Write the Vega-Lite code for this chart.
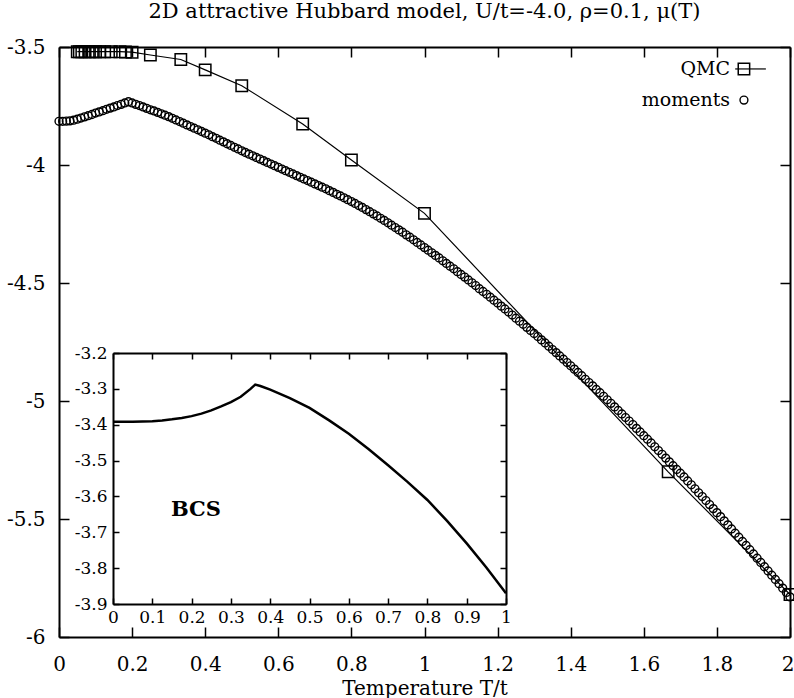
{
  "$schema": "https://vega.github.io/schema/vega-lite/v6.json",
  "width": 731,
  "height": 590,
  "autosize": "none",
  "padding": {"left": 59, "top": 47, "right": 4, "bottom": 61},
  "background": "white",
  "config": {
    "view": {"stroke": null},
    "font": "DejaVu Serif",
    "axis": {"grid": false, "domainColor": "black", "tickColor": "black", "labelColor": "black", "titleColor": "black", "labelFont": "DejaVu Serif", "titleFont": "DejaVu Serif", "titleFontWeight": "normal"}
  },
  "title": {"text": "2D attractive Hubbard model, U/t=-4.0, ρ=0.1, μ(T)", "font": "DejaVu Serif", "fontSize": 21, "fontWeight": "normal", "anchor": "middle", "offset": 15, "color": "black"},
  "datasets": {
    "moments": [
      {"T":0.00,"mu":-3.815},{"T":0.01,"mu":-3.815},{"T":0.02,"mu":-3.814},{"T":0.03,"mu":-3.813},{"T":0.04,"mu":-3.810},
      {"T":0.05,"mu":-3.806},{"T":0.06,"mu":-3.801},{"T":0.07,"mu":-3.796},{"T":0.08,"mu":-3.791},{"T":0.09,"mu":-3.786},
      {"T":0.10,"mu":-3.780},{"T":0.11,"mu":-3.775},{"T":0.12,"mu":-3.770},{"T":0.13,"mu":-3.764},{"T":0.14,"mu":-3.759},
      {"T":0.15,"mu":-3.754},{"T":0.16,"mu":-3.748},{"T":0.17,"mu":-3.743},{"T":0.18,"mu":-3.737},{"T":0.19,"mu":-3.732},
      {"T":0.20,"mu":-3.737},{"T":0.21,"mu":-3.743},{"T":0.22,"mu":-3.748},{"T":0.23,"mu":-3.754},{"T":0.24,"mu":-3.760},
      {"T":0.25,"mu":-3.766},{"T":0.26,"mu":-3.771},{"T":0.27,"mu":-3.777},{"T":0.28,"mu":-3.783},{"T":0.29,"mu":-3.789},
      {"T":0.30,"mu":-3.795},{"T":0.31,"mu":-3.802},{"T":0.32,"mu":-3.809},{"T":0.33,"mu":-3.816},{"T":0.34,"mu":-3.823},
      {"T":0.35,"mu":-3.830},{"T":0.36,"mu":-3.837},{"T":0.37,"mu":-3.844},{"T":0.38,"mu":-3.851},{"T":0.39,"mu":-3.858},
      {"T":0.40,"mu":-3.865},{"T":0.41,"mu":-3.872},{"T":0.42,"mu":-3.880},{"T":0.43,"mu":-3.887},{"T":0.44,"mu":-3.895},
      {"T":0.45,"mu":-3.902},{"T":0.46,"mu":-3.910},{"T":0.47,"mu":-3.917},{"T":0.48,"mu":-3.925},{"T":0.49,"mu":-3.932},
      {"T":0.50,"mu":-3.940},{"T":0.51,"mu":-3.947},{"T":0.52,"mu":-3.954},{"T":0.53,"mu":-3.961},{"T":0.54,"mu":-3.968},
      {"T":0.55,"mu":-3.975},{"T":0.56,"mu":-3.982},{"T":0.57,"mu":-3.989},{"T":0.58,"mu":-3.996},{"T":0.59,"mu":-4.003},
      {"T":0.60,"mu":-4.010},{"T":0.61,"mu":-4.017},{"T":0.62,"mu":-4.024},{"T":0.63,"mu":-4.031},{"T":0.64,"mu":-4.038},
      {"T":0.65,"mu":-4.045},{"T":0.66,"mu":-4.052},{"T":0.67,"mu":-4.059},{"T":0.68,"mu":-4.066},{"T":0.69,"mu":-4.073},
      {"T":0.70,"mu":-4.080},{"T":0.71,"mu":-4.087},{"T":0.72,"mu":-4.094},{"T":0.73,"mu":-4.101},{"T":0.74,"mu":-4.109},
      {"T":0.75,"mu":-4.116},{"T":0.76,"mu":-4.124},{"T":0.77,"mu":-4.131},{"T":0.78,"mu":-4.139},{"T":0.79,"mu":-4.147},
      {"T":0.80,"mu":-4.155},{"T":0.81,"mu":-4.163},{"T":0.82,"mu":-4.172},{"T":0.83,"mu":-4.180},{"T":0.84,"mu":-4.189},
      {"T":0.85,"mu":-4.198},{"T":0.86,"mu":-4.207},{"T":0.87,"mu":-4.216},{"T":0.88,"mu":-4.226},{"T":0.89,"mu":-4.235},
      {"T":0.90,"mu":-4.245},{"T":0.91,"mu":-4.255},{"T":0.92,"mu":-4.265},{"T":0.93,"mu":-4.275},{"T":0.94,"mu":-4.285},
      {"T":0.95,"mu":-4.296},{"T":0.96,"mu":-4.306},{"T":0.97,"mu":-4.317},{"T":0.98,"mu":-4.328},{"T":0.99,"mu":-4.339},
      {"T":1.00,"mu":-4.350},{"T":1.01,"mu":-4.361},{"T":1.02,"mu":-4.372},{"T":1.03,"mu":-4.383},{"T":1.04,"mu":-4.394},
      {"T":1.05,"mu":-4.406},{"T":1.06,"mu":-4.417},{"T":1.07,"mu":-4.429},{"T":1.08,"mu":-4.440},{"T":1.09,"mu":-4.452},
      {"T":1.10,"mu":-4.464},{"T":1.11,"mu":-4.475},{"T":1.12,"mu":-4.487},{"T":1.13,"mu":-4.499},{"T":1.14,"mu":-4.511},
      {"T":1.15,"mu":-4.524},{"T":1.16,"mu":-4.536},{"T":1.17,"mu":-4.548},{"T":1.18,"mu":-4.560},{"T":1.19,"mu":-4.573},
      {"T":1.20,"mu":-4.585},{"T":1.21,"mu":-4.598},{"T":1.22,"mu":-4.610},{"T":1.23,"mu":-4.623},{"T":1.24,"mu":-4.636},
      {"T":1.25,"mu":-4.649},{"T":1.26,"mu":-4.662},{"T":1.27,"mu":-4.675},{"T":1.28,"mu":-4.688},{"T":1.29,"mu":-4.701},
      {"T":1.30,"mu":-4.714},{"T":1.31,"mu":-4.727},{"T":1.32,"mu":-4.741},{"T":1.33,"mu":-4.754},{"T":1.34,"mu":-4.768},
      {"T":1.35,"mu":-4.782},{"T":1.36,"mu":-4.795},{"T":1.37,"mu":-4.809},{"T":1.38,"mu":-4.823},{"T":1.39,"mu":-4.837},
      {"T":1.40,"mu":-4.851},{"T":1.41,"mu":-4.865},{"T":1.42,"mu":-4.879},{"T":1.43,"mu":-4.893},{"T":1.44,"mu":-4.908},
      {"T":1.45,"mu":-4.922},{"T":1.46,"mu":-4.936},{"T":1.47,"mu":-4.951},{"T":1.48,"mu":-4.965},{"T":1.49,"mu":-4.980},
      {"T":1.50,"mu":-4.995},{"T":1.51,"mu":-5.010},{"T":1.52,"mu":-5.025},{"T":1.53,"mu":-5.040},{"T":1.54,"mu":-5.055},
      {"T":1.55,"mu":-5.070},{"T":1.56,"mu":-5.085},{"T":1.57,"mu":-5.100},{"T":1.58,"mu":-5.116},{"T":1.59,"mu":-5.131},
      {"T":1.60,"mu":-5.147},{"T":1.61,"mu":-5.162},{"T":1.62,"mu":-5.178},{"T":1.63,"mu":-5.194},{"T":1.64,"mu":-5.210},
      {"T":1.65,"mu":-5.226},{"T":1.66,"mu":-5.242},{"T":1.67,"mu":-5.258},{"T":1.68,"mu":-5.274},{"T":1.69,"mu":-5.290},
      {"T":1.70,"mu":-5.306},{"T":1.71,"mu":-5.322},{"T":1.72,"mu":-5.339},{"T":1.73,"mu":-5.355},{"T":1.74,"mu":-5.372},
      {"T":1.75,"mu":-5.389},{"T":1.76,"mu":-5.405},{"T":1.77,"mu":-5.422},{"T":1.78,"mu":-5.439},{"T":1.79,"mu":-5.456},
      {"T":1.80,"mu":-5.473},{"T":1.81,"mu":-5.490},{"T":1.82,"mu":-5.508},{"T":1.83,"mu":-5.525},{"T":1.84,"mu":-5.542},
      {"T":1.85,"mu":-5.560},{"T":1.86,"mu":-5.577},{"T":1.87,"mu":-5.595},{"T":1.88,"mu":-5.612},{"T":1.89,"mu":-5.630},
      {"T":1.90,"mu":-5.648},{"T":1.91,"mu":-5.666},{"T":1.92,"mu":-5.684},{"T":1.93,"mu":-5.702},{"T":1.94,"mu":-5.720},
      {"T":1.95,"mu":-5.738},{"T":1.96,"mu":-5.756},{"T":1.97,"mu":-5.774},{"T":1.98,"mu":-5.793},{"T":1.99,"mu":-5.811},
      {"T":2.00,"mu":-5.830}
    ],
    "qmc": [
      {"T":0.05,"mu":-3.52},{"T":0.0556,"mu":-3.52},{"T":0.0625,"mu":-3.52},{"T":0.0714,"mu":-3.52},{"T":0.0833,"mu":-3.52},
      {"T":0.0909,"mu":-3.52},{"T":0.1,"mu":-3.52},{"T":0.1111,"mu":-3.52},{"T":0.125,"mu":-3.52},{"T":0.1429,"mu":-3.52},
      {"T":0.1667,"mu":-3.52},{"T":0.1818,"mu":-3.521},{"T":0.2,"mu":-3.522},{"T":0.25,"mu":-3.534},{"T":0.3333,"mu":-3.553},
      {"T":0.4,"mu":-3.597},{"T":0.5,"mu":-3.664},{"T":0.6667,"mu":-3.826},{"T":0.8,"mu":-3.979},{"T":1.0,"mu":-4.205},
      {"T":1.6667,"mu":-5.30},{"T":2.0,"mu":-5.82}
    ],
    "bcs": [
      {"T":0,"mu":-3.392},{"T":0.05,"mu":-3.392},{"T":0.1,"mu":-3.390},{"T":0.125,"mu":-3.388},{"T":0.15,"mu":-3.385},
      {"T":0.175,"mu":-3.381},{"T":0.2,"mu":-3.376},{"T":0.225,"mu":-3.369},{"T":0.25,"mu":-3.360},{"T":0.275,"mu":-3.349},
      {"T":0.3,"mu":-3.337},{"T":0.325,"mu":-3.322},{"T":0.35,"mu":-3.300},{"T":0.362,"mu":-3.288},{"T":0.375,"mu":-3.292},
      {"T":0.4,"mu":-3.302},{"T":0.45,"mu":-3.326},{"T":0.5,"mu":-3.353},{"T":0.55,"mu":-3.388},{"T":0.6,"mu":-3.425},
      {"T":0.65,"mu":-3.468},{"T":0.7,"mu":-3.513},{"T":0.75,"mu":-3.560},{"T":0.8,"mu":-3.610},{"T":0.85,"mu":-3.668},
      {"T":0.9,"mu":-3.731},{"T":0.95,"mu":-3.798},{"T":1.0,"mu":-3.870}
    ]
  },
  "layer": [
    {
      "data": {"name": "moments"},
      "mark": {"type": "point", "shape": "circle", "filled": false, "size": 62, "stroke": "black", "strokeWidth": 1.4, "opacity": 1},
      "encoding": {
        "x": {"field": "T", "type": "quantitative", "scale": {"domain": [0, 2], "nice": false, "zero": false},
          "axis": {"orient": "bottom", "values": [0, 0.2, 0.4, 0.6, 0.8, 1, 1.2, 1.4, 1.6, 1.8, 2], "labelExpr": "'' + datum.value", "tickSize": -10, "tickWidth": 1.5, "domainWidth": 2, "labelPadding": 27, "labelFontSize": 20, "labelFlush": false, "labelOverlap": false,
            "labelAlign": {"condition": {"test": "datum.value == 2", "value": "right"}, "value": "center"},
            "labelOffset": {"condition": {"test": "datum.value == 2", "value": 4}, "value": 0},
            "title": "Temperature T/t", "titleFontSize": 20, "titlePadding": 4}},
        "y": {"field": "mu", "type": "quantitative", "scale": {"domain": [-6, -3.5], "nice": false, "zero": false},
          "axis": {"orient": "left", "values": [-6, -5.5, -5, -4.5, -4, -3.5], "labelExpr": "'' + datum.value", "tickSize": -10, "tickWidth": 1.5, "domainWidth": 2, "labelPadding": 24, "labelFontSize": 20, "labelFlush": false, "labelOverlap": false, "title": null}}
      }
    },
    {
      "data": {"name": "qmc"},
      "mark": {"type": "line", "color": "black", "strokeWidth": 1.2,
        "point": {"shape": "square", "filled": false, "size": 130, "stroke": "black", "strokeWidth": 1.5, "opacity": 1}},
      "encoding": {
        "x": {"field": "T", "type": "quantitative", "scale": {"domain": [0, 2], "nice": false, "zero": false},
          "axis": {"orient": "top", "values": [0, 0.2, 0.4, 0.6, 0.8, 1, 1.2, 1.4, 1.6, 1.8, 2], "labels": false, "tickSize": -10, "tickWidth": 1.5, "domainWidth": 2, "title": null}},
        "y": {"field": "mu", "type": "quantitative", "scale": {"domain": [-6, -3.5], "nice": false, "zero": false},
          "axis": {"orient": "right", "values": [-6, -5.5, -5, -4.5, -4, -3.5], "labels": false, "tickSize": -10, "tickWidth": 1.5, "domainWidth": 2, "title": null}}
      }
    },
    {
      "data": {"name": "bcs"},
      "mark": {"type": "line", "color": "black", "strokeWidth": 2.5},
      "encoding": {
        "x": {"field": "T", "type": "quantitative", "scale": {"domain": [0, 1], "range": [54, 447], "nice": false, "zero": false},
          "axis": {"orient": "bottom", "offset": -33, "values": [0, 0.1, 0.2, 0.3, 0.4, 0.5, 0.6, 0.7, 0.8, 0.9, 1], "labelExpr": "'' + datum.value", "tickSize": -6, "tickWidth": 1.5, "domainWidth": 2, "labelPadding": 11, "labelFontSize": 17, "labelFlush": false, "labelOverlap": false, "title": null}},
        "y": {"field": "mu", "type": "quantitative", "scale": {"domain": [-3.9, -3.2], "range": [557, 306], "nice": false, "zero": false},
          "axis": {"orient": "left", "offset": -54, "values": [-3.9, -3.8, -3.7, -3.6, -3.5, -3.4, -3.3, -3.2], "labelExpr": "'' + datum.value", "tickSize": -6, "tickWidth": 1.5, "domainWidth": 2, "labelPadding": 12, "labelFontSize": 17, "labelFlush": false, "labelOverlap": false, "title": null}}
      }
    },
    {
      "data": {"values": [{}]},
      "mark": {"type": "text", "text": "BCS", "font": "DejaVu Serif", "fontSize": 21, "fontWeight": "bold", "align": "center", "baseline": "middle", "color": "black"},
      "encoding": {
        "x": {"datum": 0.211, "type": "quantitative", "scale": {"domain": [0, 1], "range": [54, 447], "nice": false, "zero": false},
          "axis": {"orient": "top", "offset": -306, "values": [0, 0.1, 0.2, 0.3, 0.4, 0.5, 0.6, 0.7, 0.8, 0.9, 1], "labels": false, "tickSize": -6, "tickWidth": 1.5, "domainWidth": 2, "title": null}},
        "y": {"datum": -3.639, "type": "quantitative", "scale": {"domain": [-3.9, -3.2], "range": [557, 306], "nice": false, "zero": false},
          "axis": {"orient": "right", "offset": -284, "values": [-3.9, -3.8, -3.7, -3.6, -3.5, -3.4, -3.3, -3.2], "labels": false, "tickSize": -6, "tickWidth": 1.5, "domainWidth": 2, "title": null}}
      }
    },
    {
      "data": {"values": [{}]},
      "mark": {"type": "text", "text": "QMC", "font": "DejaVu Serif", "fontSize": 19, "align": "right", "baseline": "middle", "color": "black"},
      "encoding": {
        "x": {"datum": 1.836, "type": "quantitative", "scale": {"domain": [0, 2], "nice": false, "zero": false}, "axis": null},
        "y": {"datum": -3.593, "type": "quantitative", "scale": {"domain": [-6, -3.5], "nice": false, "zero": false}, "axis": null}
      }
    },
    {
      "data": {"values": [{}]},
      "mark": {"type": "text", "text": "moments", "font": "DejaVu Serif", "fontSize": 19, "align": "right", "baseline": "middle", "color": "black"},
      "encoding": {
        "x": {"datum": 1.836, "type": "quantitative", "scale": {"domain": [0, 2], "nice": false, "zero": false}, "axis": null},
        "y": {"datum": -3.725, "type": "quantitative", "scale": {"domain": [-6, -3.5], "nice": false, "zero": false}, "axis": null}
      }
    },
    {
      "data": {"values": [{}]},
      "mark": {"type": "rule", "color": "black", "strokeWidth": 1.2},
      "encoding": {
        "x": {"datum": 1.85, "type": "quantitative", "scale": {"domain": [0, 2], "nice": false, "zero": false}, "axis": null},
        "x2": {"datum": 1.934},
        "y": {"datum": -3.593, "type": "quantitative", "scale": {"domain": [-6, -3.5], "nice": false, "zero": false}, "axis": null}
      }
    },
    {
      "data": {"values": [{}]},
      "mark": {"type": "point", "shape": "square", "filled": false, "size": 130, "stroke": "black", "strokeWidth": 1.5, "opacity": 1},
      "encoding": {
        "x": {"datum": 1.874, "type": "quantitative", "scale": {"domain": [0, 2], "nice": false, "zero": false}, "axis": null},
        "y": {"datum": -3.593, "type": "quantitative", "scale": {"domain": [-6, -3.5], "nice": false, "zero": false}, "axis": null}
      }
    },
    {
      "data": {"values": [{}]},
      "mark": {"type": "point", "shape": "circle", "filled": false, "size": 62, "stroke": "black", "strokeWidth": 1.4, "opacity": 1},
      "encoding": {
        "x": {"datum": 1.874, "type": "quantitative", "scale": {"domain": [0, 2], "nice": false, "zero": false}, "axis": null},
        "y": {"datum": -3.725, "type": "quantitative", "scale": {"domain": [-6, -3.5], "nice": false, "zero": false}, "axis": null}
      }
    }
  ],
  "resolve": {"scale": {"x": "independent", "y": "independent"}, "axis": {"x": "independent", "y": "independent"}}
}
